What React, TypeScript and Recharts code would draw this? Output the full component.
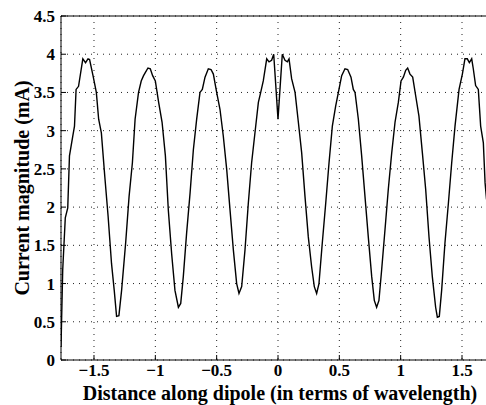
import React from 'react';
import { LineChart, Line, XAxis, YAxis, CartesianGrid, Label } from 'recharts';

// distance along dipole (wavelengths)
const positions = [
  -1.769, -1.755, -1.734, -1.714, -1.7, -1.673, -1.659, -1.646, -1.626, -1.591,
  -1.569, -1.549, -1.536, -1.508, -1.481, -1.462, -1.44, -1.412, -1.385, -1.357,
  -1.335, -1.316, -1.297, -1.275, -1.242, -1.214, -1.187, -1.165, -1.137, -1.115,
  -1.096, -1.082, -1.06, -1.041, -1.022, -1.0, -0.973, -0.945, -0.918, -0.894,
  -0.867, -0.84, -0.812, -0.793, -0.772, -0.745, -0.717, -0.69, -0.663, -0.636,
  -0.617, -0.595, -0.568, -0.546, -0.527, -0.5, -0.473, -0.446, -0.418, -0.391,
  -0.364, -0.337, -0.318, -0.296, -0.269, -0.242, -0.215, -0.188, -0.16, -0.141,
  -0.12, -0.092, -0.073, -0.052, -0.035, -0.016, 0.0, 0.016, 0.035, 0.057,
  0.076, 0.09, 0.111, 0.139, 0.166, 0.193, 0.22, 0.247, 0.274, 0.296,
  0.315, 0.334, 0.361, 0.389, 0.416, 0.443, 0.47, 0.497, 0.519, 0.546,
  0.568, 0.595, 0.614, 0.628, 0.655, 0.682, 0.709, 0.736, 0.764, 0.785,
  0.804, 0.823, 0.845, 0.872, 0.899, 0.927, 0.954, 0.981, 1.003, 1.022,
  1.041, 1.057, 1.076, 1.098, 1.122, 1.149, 1.177, 1.204, 1.231, 1.258,
  1.285, 1.299, 1.315, 1.334, 1.361, 1.389, 1.416, 1.443, 1.476, 1.503,
  1.524, 1.543, 1.56, 1.579, 1.592, 1.611, 1.633, 1.652, 1.674, 1.688, 1.7,
];

// current magnitude (mA)
const current = [
  0.17, 1.18, 1.86, 1.99, 2.67, 2.93, 3.06, 3.54, 3.58, 3.94,
  3.89, 3.94, 3.93, 3.72, 3.5, 3.15, 2.97, 2.4, 1.88, 1.26,
  0.91, 0.57, 0.58, 0.91, 1.53, 2.14, 2.58, 3.15, 3.5, 3.65,
  3.72, 3.76, 3.82, 3.81, 3.72, 3.65, 3.37, 3.11, 2.67, 1.96,
  1.39, 0.91, 0.69, 0.74, 1.09, 1.66, 2.18, 2.75, 3.15, 3.5,
  3.54, 3.7, 3.81, 3.8, 3.74, 3.5, 3.28, 2.93, 2.49, 1.96,
  1.44, 1.0, 0.87, 0.96, 1.44, 2.05, 2.58, 2.97, 3.37, 3.5,
  3.65, 3.94, 3.9, 3.92, 4.0, 3.54, 3.15, 3.54, 4.0, 3.92,
  3.9, 3.94, 3.68, 3.5, 3.11, 2.71, 2.14, 1.61, 1.22, 0.96,
  0.87, 1.0, 1.53, 2.05, 2.58, 3.06, 3.32, 3.54, 3.72, 3.81,
  3.8, 3.7, 3.54, 3.5, 3.15, 2.67, 2.14, 1.61, 1.09, 0.78,
  0.69, 0.78, 1.18, 1.7, 2.23, 2.71, 3.11, 3.37, 3.65, 3.7,
  3.79, 3.82, 3.74, 3.7, 3.46, 3.19, 2.71, 2.23, 1.61, 1.09,
  0.69, 0.56, 0.57, 0.91, 1.53, 2.05, 2.58, 3.06, 3.54, 3.74,
  3.94, 3.94, 3.89, 3.94, 3.81, 3.59, 3.54, 3.06, 2.84, 2.32, 2.1,
];

const xTicks = [-1.5, -1, -0.5, 0, 0.5, 1, 1.5];
const yTicks = [0, 0.5, 1, 1.5, 2, 2.5, 3, 3.5, 4, 4.5];

const data = positions.map((x, i) => ({ x, y: current[i] }));

const font = 'Liberation Serif, Times New Roman, serif';
const tickStyle = { fill: '#000', fontFamily: font, fontWeight: 'bold', fontSize: 17 };
const fmt = (v: number) => (v < 0 ? '\u2212' + Math.abs(v) : String(v));

export default function App() {
  return (
    <div style={{ position: 'absolute', left: 0, top: 0, width: 486, height: 405, overflow: 'hidden', background: '#fff' }}>
      <LineChart width={500} height={405} data={data} margin={{ top: 0, right: 5, bottom: 0, left: 0 }}>
        <CartesianGrid stroke="#222" strokeDasharray="1 5" />
        <XAxis
          xAxisId="top"
          orientation="top"
          dataKey="x"
          type="number"
          domain={[-1.769, 1.769]}
          ticks={xTicks}
          allowDataOverflow
          height={16}
          tick={false}
          tickSize={-5}
          axisLine={{ stroke: '#000' }}
          tickLine={{ stroke: '#000' }}
        />
        <XAxis
          dataKey="x"
          type="number"
          domain={[-1.769, 1.769]}
          ticks={xTicks}
          allowDataOverflow
          height={45}
          tickFormatter={fmt}
          tick={tickStyle}
          tickSize={-5}
          tickMargin={9}
          axisLine={{ stroke: '#000' }}
          tickLine={{ stroke: '#000' }}
        >
          <Label
            value="Distance along dipole (in terms of wavelength)"
            position="insideBottom"
            offset={5}
            dx={2}
            style={{ fill: '#000', fontFamily: font, fontWeight: 'bold', fontSize: 20 }}
          />
        </XAxis>
        <YAxis
          type="number"
          domain={[0, 4.5]}
          ticks={yTicks}
          width={61}
          tick={tickStyle}
          tickSize={-5}
          tickMargin={11}
          axisLine={{ stroke: '#000' }}
          tickLine={{ stroke: '#000' }}
        >
          <Label
            value="Current magnitude (mA)"
            angle={-90}
            position="center"
            dx={-9}
            style={{ fill: '#000', fontFamily: font, fontWeight: 'bold', fontSize: 20 }}
          />
        </YAxis>
        <Line
          xAxisId={0}
          type="linear"
          dataKey="y"
          stroke="#000"
          strokeWidth={1.4}
          dot={false}
          isAnimationActive={false}
        />
      </LineChart>
    </div>
  );
}
